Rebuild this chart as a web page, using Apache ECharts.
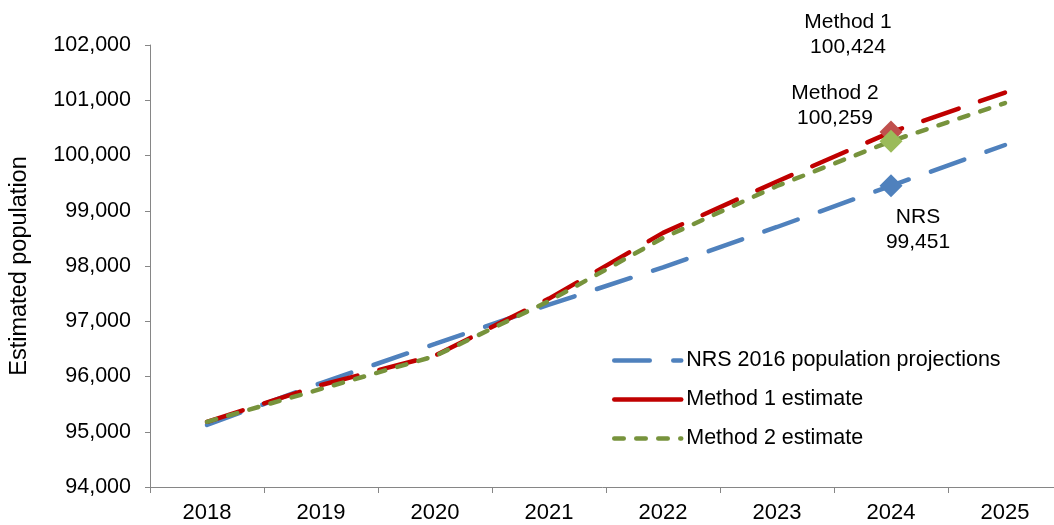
<!DOCTYPE html>
<html>
<head>
<meta charset="utf-8">
<script src="https://cdn.jsdelivr.net/npm/echarts@6/dist/echarts.min.js"></script>
<style>
  html, body { margin: 0; padding: 0; background: #ffffff; }
  #chart { width: 1054px; height: 525px; }
</style>
</head>
<body>
<div id="chart"></div>
<script>
// Categories (years) and the three population series
const years = ['2018', '2019', '2020', '2021', '2022', '2023', '2024', '2025'];
const nrsProjection = [95122, 95882, 96590, 97300, 97975, 98706, 99451, 100190];
const method1Estimate = [95180, 95846, 96380, 97410, 98600, 99530, 100424, 101140];
const method2Estimate = [95180, 95775, 96370, 97366, 98507, 99448, 100259, 100950];

// Value axis range and step
const yMin = 94000;
const yMax = 102000;
const yStep = 1000;

// Year whose values are called out with a marker and label
const calloutYear = '2024';

const FONT = '"Liberation Sans", Arial, sans-serif';
const fmt = v => v.toLocaleString('en-US');

function buildData(values, markerColor, caption, offset) {
  return values.map((v, i) => {
    if (years[i] !== calloutYear) {
      return { value: v, symbol: 'none' };
    }
    return {
      value: v,
      symbol: 'diamond',
      symbolSize: 23,
      itemStyle: { color: markerColor },
      label: {
        show: true,
        position: 'inside',
        offset: offset,
        formatter: caption + '\n' + fmt(v),
        color: '#000000',
        fontFamily: FONT,
        fontSize: 21,
        lineHeight: 25,
        align: 'center'
      }
    };
  });
}

const chart = echarts.init(document.getElementById('chart'), null, { renderer: 'canvas' });

const LINE_W = 4.5;
const BLUE_DASH = [35.5, 23.5];
const RED_DASH = [37.5, 22.5];
const GREEN_DASH = [9.5, 12.5];

chart.setOption({
  animation: false,
  backgroundColor: '#ffffff',
  grid: {
    left: 150, top: 45, width: 912, height: 442,
    containLabel: false,
    outerBoundsMode: 'none'
  },
  legend: {
    orient: 'vertical',
    left: 607,
    top: 343,
    itemWidth: 67,
    itemHeight: 12,
    itemGap: 14,
    itemStyle: { opacity: 0 },
    textStyle: { color: '#000000', fontFamily: FONT, fontSize: 21.5, lineHeight: 25 },
    data: [
      { name: 'NRS 2016 population projections',
        lineStyle: { color: '#4F81BD', width: LINE_W, type: BLUE_DASH, cap: 'round' } },
      { name: 'Method 1 estimate',
        lineStyle: { color: '#C00000', width: LINE_W, type: 'solid', cap: 'round' } },
      { name: 'Method 2 estimate',
        lineStyle: { color: '#77933C', width: LINE_W, type: GREEN_DASH, cap: 'round' } }
    ]
  },
  xAxis: {
    type: 'category',
    data: years,
    boundaryGap: true,
    axisLine: { lineStyle: { color: '#868686', width: 1 } },
    axisTick: { show: true, length: 6, lineStyle: { color: '#868686' } },
    axisLabel: { color: '#000000', fontFamily: FONT, fontSize: 22, margin: 15 },
    splitLine: { show: false }
  },
  yAxis: {
    type: 'value',
    min: yMin,
    max: yMax,
    interval: yStep,
    name: 'Estimated population',
    nameLocation: 'middle',
    nameGap: 118,
    nameTextStyle: { color: '#000000', fontFamily: FONT, fontSize: 23.5 },
    axisLine: { show: true, lineStyle: { color: '#868686', width: 1 } },
    axisTick: { show: true, length: 5, lineStyle: { color: '#868686' } },
    axisLabel: { color: '#000000', fontFamily: FONT, fontSize: 21.5, margin: 19, formatter: v => fmt(v) },
    splitLine: { show: false }
  },
  series: [
    {
      name: 'NRS 2016 population projections',
      type: 'line',
      symbol: 'none',
      showSymbol: true,
      color: '#4F81BD',
      lineStyle: { color: '#4F81BD', width: LINE_W, type: BLUE_DASH, cap: 'round' },
      data: buildData(nrsProjection, '#4F81BD', 'NRS', [27, 44]),
      emphasis: { disabled: true },
      z: 2
    },
    {
      name: 'Method 1 estimate',
      type: 'line',
      symbol: 'none',
      showSymbol: true,
      color: '#C00000',
      lineStyle: { color: '#C00000', width: LINE_W, type: RED_DASH, cap: 'round' },
      data: buildData(method1Estimate, '#C0504D', 'Method 1', [-43, -97]),
      emphasis: { disabled: true },
      z: 3
    },
    {
      name: 'Method 2 estimate',
      type: 'line',
      symbol: 'none',
      showSymbol: true,
      color: '#77933C',
      lineStyle: { color: '#77933C', width: LINE_W, type: GREEN_DASH, cap: 'round' },
      data: buildData(method2Estimate, '#9BBB59', 'Method 2', [-56, -35]),
      emphasis: { disabled: true },
      z: 4
    }
  ]
});
</script>
</body>
</html>
